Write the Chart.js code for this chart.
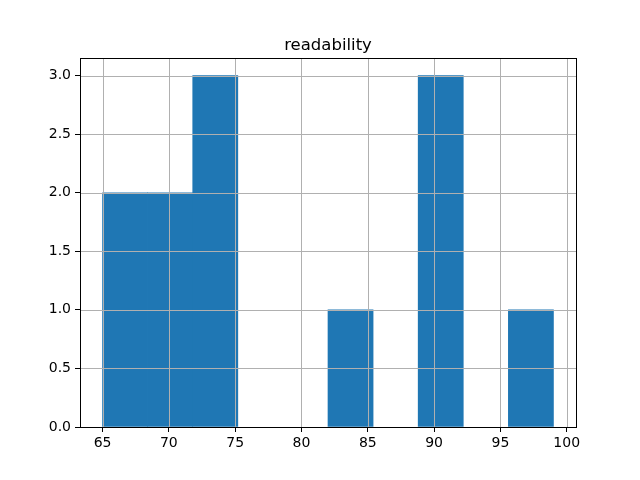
<!DOCTYPE html>
<html>
<head>
<meta charset="utf-8">
<script src="https://cdn.jsdelivr.net/npm/chart.js@4/dist/chart.umd.min.js"></script>
<style>
  html, body { margin: 0; padding: 0; background: #fff; }
  #wrap { width: 640px; height: 480px; }
</style>
</head>
<body>
<div id="wrap"><canvas id="chart" width="640" height="480"></canvas></div>
<script>
// histogram bins (10 bins between 65 and 99)
const binEdges = [65, 68.4, 71.8, 75.2, 78.6, 82, 85.4, 88.8, 92.2, 95.6, 99];
const binCounts = [2, 2, 3, 0, 0, 1, 0, 3, 0, 1];
const xTicks = [65, 70, 75, 80, 85, 90, 95, 100];
const yTicks = [0, 0.5, 1, 1.5, 2, 2.5, 3];
const titleText = "readability";

const points = binCounts.map((c, i) => ({
  x: (binEdges[i] + binEdges[i + 1]) / 2,
  y: c === 0 ? null : c,
}));

// matplotlib draws grid above the bars, plus a full frame and an axes-centred title
const gridOnTop = {
  id: "gridOnTop",
  afterDatasetsDraw(chart) {
    const { ctx, chartArea: a, scales } = chart;
    ctx.save();
    ctx.strokeStyle = "#b0b0b0";
    ctx.lineWidth = 1;
    ctx.beginPath();
    xTicks.forEach(v => {
      const px = Math.round(scales.x.getPixelForValue(v)) + 0.5;
      ctx.moveTo(px, a.top); ctx.lineTo(px, a.bottom);
    });
    yTicks.forEach(v => {
      const py = Math.round(scales.y.getPixelForValue(v)) + 0.5;
      ctx.moveTo(a.left, py); ctx.lineTo(a.right, py);
    });
    ctx.stroke();
    ctx.strokeStyle = "#000";
    ctx.strokeRect(Math.round(a.left) + 0.5, Math.round(a.top) + 0.5,
      Math.round(a.right - a.left), Math.round(a.bottom - a.top));

    ctx.fillStyle = "#000";
    ctx.font = "16.5px 'DejaVu Sans'";
    ctx.textAlign = "center";
    ctx.textBaseline = "alphabetic";
    ctx.fillText(titleText, (a.left + a.right) / 2, a.top - 8);
    ctx.restore();
  }
};

const tickFont = { family: "DejaVu Sans", size: 14 };

new Chart(document.getElementById("chart").getContext("2d"), {
  type: "bar",
  data: {
    datasets: [{
      data: points,
      backgroundColor: "#1f77b4",
      borderWidth: 0,
      barPercentage: 1,
      categoryPercentage: 1,
    }],
  },
  options: {
    responsive: false,
    animation: false,
    events: [],
    layout: { padding: { left: 0, right: 64, top: 58, bottom: 0 } },
    plugins: {
      legend: { display: false },
      tooltip: { enabled: false },
      title: { display: false },
    },
    scales: {
      x: {
        type: "linear",
        offset: false,
        min: 63.3,
        max: 100.7,
        afterBuildTicks: s => { s.ticks = xTicks.map(v => ({ value: v })); },
        afterFit: s => { s.height = 53; },
        grid: { offset: false, color: "transparent", tickColor: "#000", tickLength: 5, drawOnChartArea: false },
        border: { display: false },
        ticks: { color: "#000", font: tickFont, padding: 3, maxRotation: 0, autoSkip: false },
      },
      y: {
        min: 0,
        max: 3.15,
        afterBuildTicks: s => { s.ticks = yTicks.map(v => ({ value: v })); },
        afterFit: s => { s.width = 80; },
        grid: { color: "transparent", tickColor: "#000", tickLength: 5, drawOnChartArea: false },
        border: { display: false },
        ticks: { color: "#000", font: tickFont, padding: 4, callback: v => v.toFixed(1) },
      },
    },
  },
  plugins: [gridOnTop],
});
</script>
</body>
</html>
